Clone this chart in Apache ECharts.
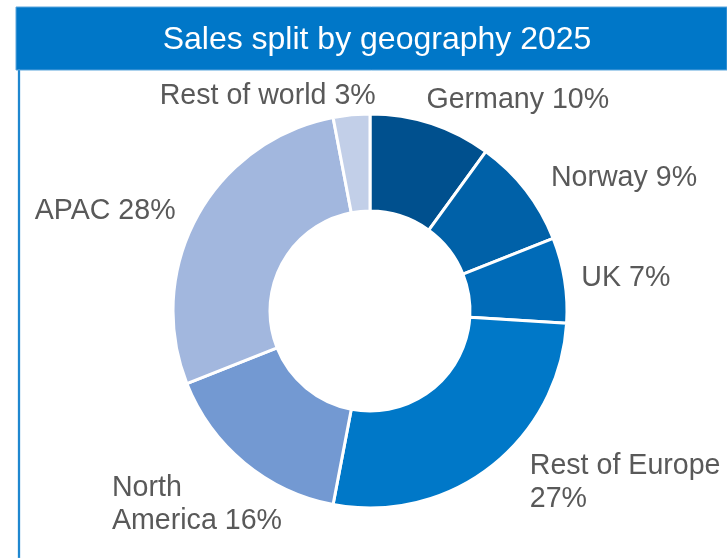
<!DOCTYPE html>
<html>
<head>
<meta charset="utf-8">
<script src="https://cdn.jsdelivr.net/npm/echarts@6/dist/echarts.min.js"></script>
<style>
  html, body { margin: 0; padding: 0; background: #fff; }
  #geo_pie { width: 727px; height: 558px; }
</style>
</head>
<body>
<div id="geo_pie"></div>
<script>
var regions = ['Germany', 'Norway', 'UK', 'Rest of Europe', 'North America', 'APAC', 'Rest of world'];
var shares = [10, 9, 7, 27, 16, 28, 3];
var labelText = ['Germany 10%', 'Norway 9%', 'UK 7%', 'Rest of Europe\n27%', 'North\nAmerica 16%', 'APAC 28%', 'Rest of world 3%'];
var sliceColors = ['#00508E', '#0061A8', '#006BB8', '#0078C8', '#7399D2', '#A2B7DE', '#C2CFE8'];

// small nudges so the labels sit where Excel put them
var labelShift = [[-15, -6], [6, -1], [-6, 1], [23, 2], [58, 28], [-1, 4], [31, -1]];

var myChart = echarts.init(document.getElementById('geo_pie'));

var pieData = regions.map(function (name, i) {
    var item = { name: name, value: shares[i], itemStyle: { color: sliceColors[i] } };
    if (name === 'North America') {
        item.label = { formatter: '{a|North}\n{a|America 16%}' };
    }
    return item;
});

var option = {
    animation: false,
    graphic: [
        {
            type: 'rect',
            shape: { x: 16, y: 7, width: 711, height: 63 },
            style: { fill: '#0077C8', stroke: '#5AA5DC', lineWidth: 1 }
        },
        {
            type: 'rect',
            shape: { x: 18, y: 70, width: 2, height: 488 },
            style: { fill: '#0077C8', stroke: '#7DB8E6', lineWidth: 0.5 }
        }
    ],
    title: {
        text: 'Sales split by geography 2025',
        left: 372,
        textAlign: 'center',
        top: 19,
        textStyle: {
            color: '#ffffff',
            fontFamily: 'Liberation Sans, Arial, sans-serif',
            fontWeight: 'normal',
            fontSize: 32
        }
    },
    series: [
        {
            type: 'pie',
            center: [370, 311],
            radius: [100, 197],
            startAngle: 90,
            clockwise: true,
            avoidLabelOverlap: false,
            itemStyle: { borderColor: '#ffffff', borderWidth: 3 },
            label: {
                show: true,
                position: 'outside',
                distanceToLabelLine: 5,
                color: '#595959',
                fontFamily: 'Liberation Sans, Arial, sans-serif',
                fontSize: 28.6,
                lineHeight: 33,
                formatter: function (p) { return labelText[p.dataIndex]; },
                rich: {
                    a: {
                        width: 174,
                        align: 'left',
                        color: '#595959',
                        fontFamily: 'Liberation Sans, Arial, sans-serif',
                        fontSize: 28.6,
                        lineHeight: 33
                    }
                }
            },
            labelLine: { show: false, length: 18, length2: 0 },
            labelLayout: function (params) {
                var s = labelShift[params.dataIndex];
                return { dx: s[0], dy: s[1] };
            },
            emphasis: { disabled: true },
            data: pieData
        }
    ]
};

myChart.setOption(option);
</script>
</body>
</html>
